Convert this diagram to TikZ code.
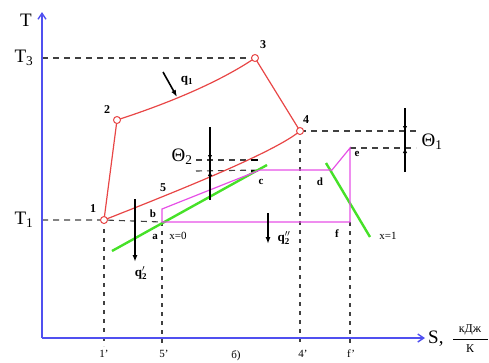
\documentclass[tikz,border=0pt]{standalone}
\usepackage{fontspec}
\setmainfont{Liberation Serif}
\usetikzlibrary{arrows.meta}
\definecolor{cred}{RGB}{232,70,70}
\definecolor{cmag}{RGB}{230,80,230}
\definecolor{cgrn}{RGB}{70,225,40}
\definecolor{cblu}{RGB}{80,80,240}
\tikzset{
  axis/.style={cblu,line width=1.4pt,-{Straight Barb[length=6pt,width=8pt]}},
  redl/.style={cred,line width=1.2pt},
  magl/.style={cmag,line width=1.2pt},
  grnl/.style={cgrn,line width=2.4pt},
  dsh/.style={black!75,line width=1.1pt,dash pattern=on 6pt off 5pt},
  vdsh/.style={black!75,line width=1.3pt,dash pattern=on 4pt off 5pt},
  pt/.style={circle,draw=cred,fill=white,line width=1pt,inner sep=0pt,minimum size=7pt},
  qarr/.style={black,line width=1.6pt,-{Latex[length=7pt,width=5pt]}},
  tharr/.style={black,line width=1.1pt,-{Latex[length=5pt,width=4.5pt]}},
  big/.style={font=\fontsize{19}{20}\selectfont,inner sep=0pt},
  plab/.style={font=\fontsize{12}{13}\selectfont\bfseries,inner sep=0pt},
  slab/.style={font=\fontsize{11}{12}\selectfont\bfseries,inner sep=0pt},
  xlab/.style={font=\fontsize{11}{12}\selectfont,inner sep=0pt},
  unit/.style={font=\fontsize{12}{13}\selectfont,inner sep=0pt},
  qlab/.style={font=\fontsize{13}{14}\selectfont\bfseries,inner sep=0pt},
}
\newcommand{\qsub}{\mbox{\fontsize{9}{10}\selectfont\bfseries 2}}
\begin{document}
\begin{tikzpicture}[x=1pt,y=-1pt]
\useasboundingbox (0,0) rectangle (489,362);
% coordinates
\coordinate (O) at (42,338);
\coordinate (Ttop) at (42,12);
\coordinate (Send) at (425,338);
\coordinate (p1) at (104,220);
\coordinate (p2) at (117,120);
\coordinate (p3) at (255,58);
\coordinate (p4) at (300,131);
\coordinate (a) at (162,222);
\coordinate (b) at (162,209);
\coordinate (c) at (260,170);
\coordinate (d) at (332,170);
\coordinate (e) at (350,148);
\coordinate (f) at (350,222);
% dashed guides
\draw[dsh] (42,58) -- (p3);
\draw[dsh] (42,220) -- (p1) -- (a);
\draw[vdsh] (p1) -- (104,346);
\draw[vdsh] (a) -- (162,346);
\draw[vdsh] (p4) -- (300,346);
\draw[vdsh] (f) -- (350,346);
\draw[dsh] (p4) -- (416,131);
\draw[dsh] (e) -- (416,148);
\draw[dsh] (196,160) -- (260,160);
\draw[dsh] (196,171) -- (c);
\draw[black,line width=2pt] (251,160) -- (258,160);
\draw[black,line width=2pt] (251,171) -- (258,171);
% axes
\draw[axis] (O) -- (Ttop);
\draw[axis] (O) -- (Send);
% green lines
\draw[grnl] (112,251) -- (267,165);
\draw[grnl] (326,163) -- (370,237);
% magenta
\draw[magl] (a) -- (b) -- (c) -- (d) -- (e) -- (f) -- cycle;
% red cycle
\draw[redl] (p1) -- (p2) .. controls (160,106) and (215,85) .. (p3) -- (p4)
  .. controls (275,152) and (180,190) .. (p1);
\node[pt] at (p1) {};
\node[pt] at (p2) {};
\node[pt] at (p3) {};
\node[pt] at (p4) {};
% theta indicators
\draw[black,line width=1.1pt] (405,108) -- (405,172);
\draw[tharr] (405,108) -- (405,131);
\draw[tharr] (405,172) -- (405,148);
\draw[black,line width=1.1pt] (210,127) -- (210,200);
\draw[tharr] (210,127) -- (210,160);
\draw[tharr] (210,200) -- (210,171);
% heat arrows
\draw[qarr] (163,72) -- (177,97);
\draw[qarr] (135,199) -- (135,262);
\draw[qarr] (268,213) -- (268,244);
% labels
\node[big] (lT) at (26,20) {T};
\node[big] (lT3) at (24,58) {T\textsubscript{3}};
\node[big] (lT1) at (24,220) {T\textsubscript{1}};
\node[big,anchor=west] (lS) at (428,339) {S,};
\node[unit] (uN) at (470,330) {кДж};
\node[unit] (uD) at (470,349) {К};
\draw[black,line width=0.6pt] (453,339) -- (488,339);
\node[big] (th1) at (432,142) {Θ\textsubscript{1}};
\node[big] (th2) at (182,157) {Θ\textsubscript{2}};
\node[plab] (l1) at (93,209) {1};
\node[plab] (l2) at (107,110) {2};
\node[plab] (l3) at (263,45) {3};
\node[plab] (l4) at (306,120) {4};
\node[plab] (l5) at (163,188) {5};
\node[slab] (lb) at (153,214) {b};
\node[slab] (la) at (155,237) {a};
\node[slab] (lc) at (261,182) {c};
\node[slab] (ld) at (320,182) {d};
\node[slab] (le) at (357,154) {e};
\node[slab] (lf) at (337,234) {f};
\node[xlab] (x0) at (178,236) {x=0};
\node[xlab] (x1) at (388,236) {x=1};
\node[qlab] (q1) at (187,81) {q\textsubscript{1}};
\node[qlab] (q2a) at (141,273) {$\mbox{q}_{\qsub}^{\prime}$};
\node[qlab] (q2b) at (284,238) {$\mbox{q}_{\qsub}^{\prime\prime}$};
\node[xlab] (t1) at (104,354) {1'};
\node[xlab] (t5) at (164,354) {5'};
\node[xlab] (t4) at (303,354) {4'};
\node[xlab] (tf) at (351,354) {f'};
\node[xlab] (lbb) at (236,356) {б)};
\end{tikzpicture}
\end{document}
